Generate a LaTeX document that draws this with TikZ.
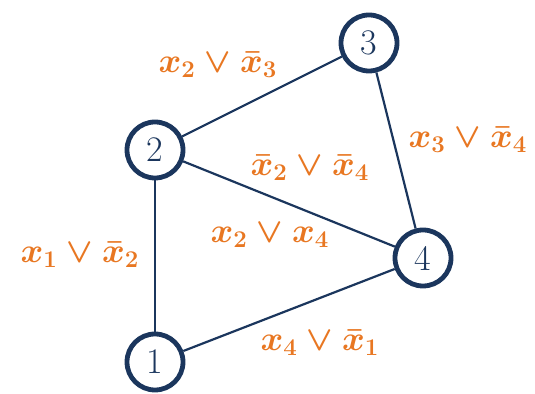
\documentclass[tikz,border=0pt]{standalone}
\usepackage{bm}
\definecolor{navy}{HTML}{1B365D}
\definecolor{clauseorange}{HTML}{E87722}
\begin{document}
\begin{tikzpicture}[x=0.5pt, y=-0.5pt,
        vertex/.style={circle, draw=navy, line width=2.4pt, minimum size=28pt, inner sep=0pt, text=navy, font=\fontsize{18}{21}\selectfont},
        clause/.style={text=clauseorange, font=\fontsize{17.5}{20}\selectfont\boldmath},
        link/.style={draw=navy, line width=1.1pt}]
            \useasboundingbox (0,0) rectangle (535,394);
            \node[vertex] (v3) at (369,43) {3};
            \node[vertex] (v2) at (155,150) {2};
            \node[vertex] (v4) at (423,258) {4};
            \node[vertex] (v1) at (155,362) {1};
            \draw[link] (v2) -- (v3);
            \draw[link] (v3) -- (v4);
            \draw[link] (v2) -- (v4);
            \draw[link] (v2) -- (v1);
            \draw[link] (v1) -- (v4);
            \node[clause] (c23) at (218,65) {$x_2 \vee \bar{x}_3$};
            \node[clause] (c34) at (468,140) {$x_3 \vee \bar{x}_4$};
            \node[clause] (c24a) at (310,168) {$\bar{x}_2 \vee \bar{x}_4$};
            \node[clause] (c24b) at (270,235) {$x_2 \vee x_4$};
            \node[clause] (c12) at (80,255) {$x_1 \vee \bar{x}_2$};
            \node[clause] (c41) at (320,343) {$x_4 \vee \bar{x}_1$};
        \end{tikzpicture}
\end{document}
